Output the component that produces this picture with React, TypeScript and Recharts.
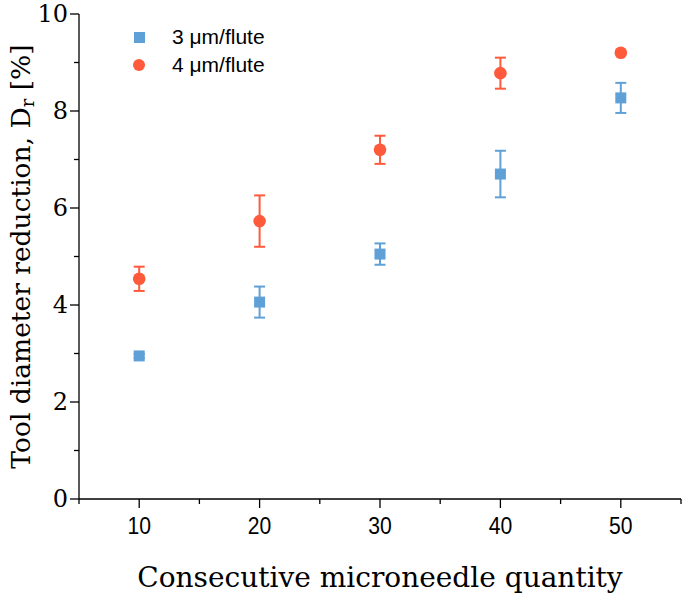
import { ScatterChart, Scatter, XAxis, YAxis, ErrorBar, Legend } from "recharts";

const quantities = [10, 20, 30, 40, 50];
const flute3Mean = [2.95, 4.06, 5.05, 6.7, 8.27];
const flute3Err = [0.04, 0.32, 0.22, 0.48, 0.31];
const flute4Mean = [4.54, 5.73, 7.2, 8.78, 9.2];
const flute4Err = [0.25, 0.53, 0.29, 0.32, 0.03];

const xTicks = [5, 10, 15, 20, 25, 30, 35, 40, 45, 50, 55];
const yTicks = [0, 1, 2, 3, 4, 5, 6, 7, 8, 9, 10];

const BLUE = "#5FA0D7";
const RED = "#FF5A3C";
const SERIF = "'DejaVu Serif', 'Liberation Serif', serif";

const flute3 = quantities.map((q, i) => ({ q, v: flute3Mean[i], err: flute3Err[i] }));
const flute4 = quantities.map((q, i) => ({ q, v: flute4Mean[i], err: flute4Err[i] }));

const SquareDot = (p: any) => (
  <rect x={p.cx - 5.5} y={p.cy - 5.5} width={11} height={11} fill={BLUE} />
);
const CircleDot = (p: any) => <circle cx={p.cx} cy={p.cy} r={6.3} fill={RED} />;

// tick size 10 + margin 2 in both axes
const XTick = (p: any) => {
  const axisY = p.y - 12;
  const major = p.payload.value % 10 === 0;
  return (
    <g>
      <line x1={p.x} x2={p.x} y1={axisY} y2={axisY + (major ? 9 : 5)} stroke="#000" strokeWidth={1.3} />
      {major && (
        <text
          x={p.x}
          y={axisY + 29}
          textAnchor="middle"
          dominantBaseline="middle"
          fontFamily="'Liberation Sans Narrow', 'Liberation Sans', Arial, sans-serif"
          fontSize={24}
          fill="#000"
          transform={`translate(${p.x} 0) scale(0.88 1) translate(${-p.x} 0)`}
        >
          {p.payload.value}
        </text>
      )}
    </g>
  );
};

const YTick = (p: any) => {
  const axisX = p.x + 12;
  const major = p.payload.value % 2 === 0;
  return (
    <g>
      <line x1={axisX - (major ? 9 : 5)} x2={axisX} y1={p.y} y2={p.y} stroke="#000" strokeWidth={1.3} />
      {major && (
        <text
          x={axisX - 11}
          y={p.y + 1}
          textAnchor="end"
          dominantBaseline="middle"
          fontFamily={SERIF}
          fontSize={24}
          fill="#000"
        >
          {p.payload.value}
        </text>
      )}
    </g>
  );
};

const LegendBox = () => (
  <div style={{ fontFamily: "'Liberation Sans', Arial, sans-serif", fontSize: 21, color: "#000" }}>
    {[
      { label: "3 μm/flute", icon: <div style={{ width: 11, height: 11, background: BLUE }} /> },
      { label: "4 μm/flute", icon: <div style={{ width: 12, height: 12, borderRadius: 6, background: RED }} /> },
    ].map((r) => (
      <div key={r.label} style={{ display: "flex", alignItems: "center", height: 28 }}>
        <div style={{ width: 30, display: "flex", justifyContent: "center" }}>{r.icon}</div>
        <span style={{ marginLeft: 18 }}>{r.label}</span>
      </div>
    ))}
  </div>
);

export default function App() {
  return (
    <div style={{ position: "absolute", left: 0, top: 0, background: "#fff" }}>
      <ScatterChart width={685} height={593} margin={{ top: 14, right: 4, left: 0, bottom: 0 }}>
        <XAxis
          type="number"
          dataKey="q"
          domain={[5, 55]}
          ticks={xTicks}
          interval={0}
          height={94}
          tickSize={10}
          tickMargin={2}
          tickLine={false}
          tick={<XTick />}
          axisLine={{ stroke: "#000", strokeWidth: 1.3 }}
          label={{
            value: "Consecutive microneedle quantity",
            position: "insideBottom",
            offset: 6,
            fontFamily: SERIF,
            fontSize: 28,
            fill: "#000",
          }}
        />
        <YAxis
          type="number"
          dataKey="v"
          domain={[0, 10]}
          ticks={yTicks}
          interval={0}
          width={79}
          tickSize={10}
          tickMargin={2}
          tickLine={false}
          tick={<YTick />}
          axisLine={{ stroke: "#000", strokeWidth: 1.3 }}
          label={(props: any) => {
            const vb = props.viewBox || {};
            const cy = (vb.y ?? 14) + (vb.height ?? 485) / 2;
            return (
              <text
                x={0}
                y={0}
                transform={`translate(23, ${cy}) rotate(-90)`}
                textAnchor="middle"
                dominantBaseline="middle"
                fontFamily={SERIF}
                fontSize={26.5}
                fill="#000"
              >
                Tool diameter reduction, D
                <tspan fontSize={18} dy={6}>r</tspan>
                <tspan dy={-6}> [%]</tspan>
              </text>
            );
          }}
        />
        <Legend
          content={<LegendBox />}
          layout="horizontal"
          verticalAlign="middle"
          align="center"
          wrapperStyle={{ top: 23, left: 124, width: "auto" }}
        />
        <Scatter name="3 μm/flute" data={flute3} fill={BLUE} shape={SquareDot} isAnimationActive={false}>
          <ErrorBar dataKey="err" direction="y" width={5.5} stroke={BLUE} strokeWidth={2} />
        </Scatter>
        <Scatter name="4 μm/flute" data={flute4} fill={RED} shape={CircleDot} isAnimationActive={false}>
          <ErrorBar dataKey="err" direction="y" width={5.5} stroke={RED} strokeWidth={2} />
        </Scatter>
      </ScatterChart>
    </div>
  );
}
